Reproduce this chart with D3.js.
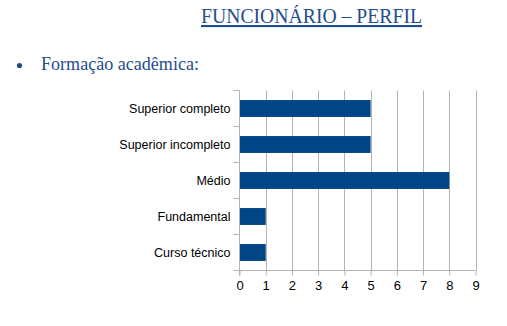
<!DOCTYPE html>
<html>
<head>
<meta charset="utf-8">
<script src="https://cdn.jsdelivr.net/npm/d3@7"></script>
<style>
body { margin: 0; background: #fff; }
</style>
</head>
<body>
<script>
// chart data
var categories = ["Superior completo", "Superior incompleto", "Médio", "Fundamental", "Curso técnico"];
var values = [5, 5, 8, 1, 1];
var xTicks = [0, 1, 2, 3, 4, 5, 6, 7, 8, 9];

var width = 507, height = 326;

var svg = d3.select("body").append("svg")
  .attr("width", width)
  .attr("height", height);

// title
svg.append("text")
  .attr("x", 201)
  .attr("y", 23)
  .attr("font-family", "Liberation Serif, serif")
  .attr("font-size", 21)
  .attr("fill", "#1f4e8c")
  .attr("text-decoration", "underline")
  .attr("textLength", 221)
  .attr("lengthAdjust", "spacingAndGlyphs")
  .text("FUNCIONÁRIO – PERFIL");

svg.append("circle")
  .attr("cx", 19.5)
  .attr("cy", 65.5)
  .attr("r", 2.6)
  .attr("fill", "#1f4e8c");

svg.append("text")
  .attr("x", 41)
  .attr("y", 70)
  .attr("font-family", "Liberation Serif, serif")
  .attr("font-size", 18)
  .attr("fill", "#1f4e8c")
  .attr("textLength", 158)
  .attr("lengthAdjust", "spacingAndGlyphs")
  .text("Formação acadêmica:");

// scales
var x = d3.scaleLinear().domain([0, 9]).range([239.5, 475.5]);
var y = d3.scaleBand().domain(categories).range([90.5, 270.5]).paddingInner(0.53).paddingOuter(0.265);
var yBand = d3.scaleBand().domain(categories).range([90.5, 270.5]);

// vertical grid
svg.append("g")
  .selectAll("line")
  .data(xTicks.slice(1))
  .enter().append("line")
  .attr("x1", d => Math.round(x(d)) + 0.5)
  .attr("x2", d => Math.round(x(d)) + 0.5)
  .attr("y1", 90.5)
  .attr("y2", 270.5)
  .attr("stroke", "#b3b3b3")
  .attr("stroke-width", 1);

// bars
svg.append("g")
  .selectAll("rect")
  .data(categories)
  .enter().append("rect")
  .attr("x", x(0))
  .attr("y", d => y(d))
  .attr("width", (d, i) => x(values[i]) - x(0))
  .attr("height", y.bandwidth())
  .attr("fill", "#004586");

// x axis
var xAxis = svg.append("g")
  .attr("transform", "translate(0,270.5)")
  .call(d3.axisBottom(x).tickValues(xTicks).tickSize(5).tickPadding(5));
xAxis.select(".domain").attr("stroke", "#b3b3b3").attr("d", "M239.5,0H475.5");
xAxis.selectAll(".tick line").attr("stroke", "#b3b3b3").attr("y1", 0);
xAxis.selectAll(".tick text")
  .attr("font-family", "Liberation Sans, Arial, sans-serif")
  .attr("font-size", 13)
  .attr("fill", "#000");

// y axis
var yAxis = svg.append("g")
  .attr("transform", "translate(239.5,0)")
  .call(d3.axisLeft(yBand).tickSize(0).tickPadding(9));
yAxis.select(".domain").attr("stroke", "#b3b3b3").attr("d", "M0,90.5V275.5");
yAxis.selectAll(".tick text")
  .attr("font-family", "Liberation Sans, Arial, sans-serif")
  .attr("font-size", 12.5)
  .attr("fill", "#000");

// band separator ticks on y axis
svg.append("g")
  .selectAll("line")
  .data(categories)
  .enter().append("line")
  .attr("x1", 233.5)
  .attr("x2", 239.5)
  .attr("y1", d => yBand(d))
  .attr("y2", d => yBand(d))
  .attr("stroke", "#b3b3b3");
svg.append("line")
  .attr("x1", 233.5).attr("x2", 239.5)
  .attr("y1", 270.5).attr("y2", 270.5)
  .attr("stroke", "#b3b3b3");
</script>
</body>
</html>
